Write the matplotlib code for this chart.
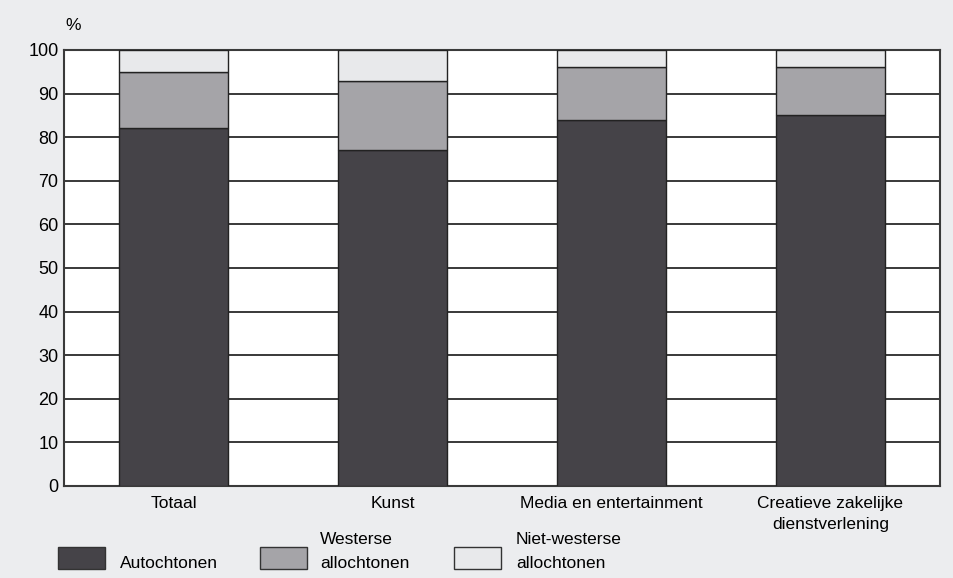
import matplotlib
matplotlib.use("Agg")
from matplotlib import pyplot as plt
from matplotlib.patches import Rectangle

# data
categories = ["Totaal", "Kunst", "Media en entertainment",
              "Creatieve zakelijke\ndienstverlening"]
autochtonen = [82, 77, 84, 85]
westerse = [13, 16, 12, 11]
niet_westerse = [5, 7, 4, 4]
series_names = ["Autochtonen", "Westerse\nallochtonen", "Niet-westerse\nallochtonen"]
yticks = [0, 10, 20, 30, 40, 50, 60, 70, 80, 90, 100]

dark = "#454348"
mid = "#a5a4a8"
light = "#e8e9eb"
bg = "#ecedef"

plt.rcParams['font.family'] = ['Liberation Sans', 'DejaVu Sans']

fig = plt.figure(figsize=(9.54, 5.78), dpi=100, facecolor=bg)
ax = fig.add_axes([0.0671, 0.1592, 0.9182, 0.7543])
ax.set_facecolor("white")

x = list(range(len(categories)))
w = 0.5
bottom2 = [a for a in autochtonen]
bottom3 = [a + b for a, b in zip(autochtonen, westerse)]
ax.bar(x, autochtonen, w, color=dark, edgecolor="#222222", linewidth=1, zorder=3)
ax.bar(x, westerse, w, bottom=bottom2, color=mid, edgecolor="#222222", linewidth=1, zorder=3)
ax.bar(x, niet_westerse, w, bottom=bottom3, color=light, edgecolor="#222222", linewidth=1, zorder=3)

ax.set_xlim(-0.5, len(categories) - 0.5)
ax.set_ylim(0, 100)
ax.set_yticks(yticks)
ax.set_yticklabels([str(t) for t in yticks], fontsize=13)
ax.set_xticks(x)
ax.set_xticklabels(categories, fontsize=12.5, linespacing=1.5, va="top")
ax.tick_params(axis="y", length=0, pad=4)
ax.tick_params(axis="x", length=0, pad=7.5)
ax.grid(axis="y", color="#2a2a2a", linewidth=1.3, zorder=1)
ax.set_axisbelow(True)
for s in ax.spines.values():
    s.set_color("#3a3a3a")
    s.set_linewidth(1.5)

fig.text(73 / 954, 1 - 26 / 578, "%", fontsize=12.5, ha="center", va="center")

# legend drawn by hand
colors = [dark, mid, light]
box_x = [58, 260, 454]
text_x = [120, 320, 516]
for bx, tx, c, name in zip(box_x, text_x, colors, series_names):
    fig.add_artist(Rectangle((bx / 954, 1 - 569 / 578), 47 / 954, 22 / 578,
                             transform=fig.transFigure, facecolor=c,
                             edgecolor="#333333", linewidth=1))
    lines = name.split("\n")
    if len(lines) == 2:
        fig.text(tx / 954, 1 - 540 / 578, lines[0], fontsize=12.5,
                 ha="left", va="center")
        fig.text(tx / 954, 1 - 563 / 578, lines[1], fontsize=12.5,
                 ha="left", va="center")
    else:
        fig.text(tx / 954, 1 - 564 / 578, name, fontsize=12.5,
                 ha="left", va="center")

fig.savefig("out.png", dpi=100, facecolor=bg)
